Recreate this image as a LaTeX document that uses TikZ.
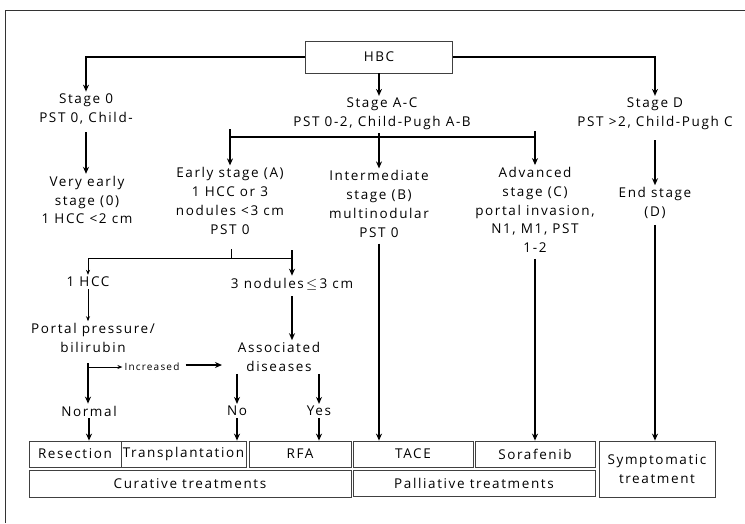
\documentclass[tikz,border=0pt]{standalone}
\usepackage{amsmath}
\usepackage{fontspec}
\setmainfont{Open Sans}[LetterSpace=12]
\usetikzlibrary{arrows.meta}

\tikzset{
  txt/.style={align=center, inner sep=2pt, font=\fontsize{13.5}{18.8}\selectfont},
  box/.style={draw=black!75, line width=0.8pt, inner sep=0pt, font=\fontsize{13.5}{18.8}\selectfont, align=center},
  arr/.style={-{Stealth[length=7pt,width=6pt]}, line width=1.2pt},
  tarr/.style={-{Stealth[length=5pt,width=4pt]}, line width=0.7pt}
}

\begin{document}
\begin{tikzpicture}[x=1pt,y=-1pt]
\useasboundingbox (0,0) rectangle (745,523);
\draw[line width=0.9pt, black!80] (5,523) -- (5,10) -- (745,10);

% top level
\node[box, minimum width=147pt, minimum height=32pt] (hbc) at (379,57) {HBC};
\node[txt] (s0) at (86,109) {Stage 0\\PST 0, Child-};
\node[txt] (sac) at (382,114) {Stage A-C\\PST 0-2, Child-Pugh A-B};
\node[txt] (sd) at (655,114) {Stage D\\PST >2, Child-Pugh C};

% stages
\node[txt] (ve) at (87,200) {Very early\\stage (0)\\1 HCC <2 cm};
\node[txt] (ea) at (230,201) {Early stage (A)\\1 HCC or 3\\nodules <3 cm\\PST 0};
\node[txt] (ib) at (379,204) {Intermediate\\stage (B)\\multinodular\\PST 0};
\node[txt] (ac) at (535,210) {Advanced\\stage (C)\\portal invasion,\\N1, M1, PST\\1-2};
\node[txt] (ed) at (655,203) {End stage\\(D)};

% early stage branch
\node[txt] (hcc1) at (88,282) {1 HCC};
\node[txt] (n3) at (292,284) {3 nodules\,$\leq$\,3 cm};
\node[txt] (pp) at (93,338) {Portal pressure/\\bilirubin};
\node[txt] (ad) at (279,357) {Associated\\diseases};
\node[txt, font=\fontsize{10}{11}\selectfont] (incr) at (152,367) {Increased};
\node[txt] (nrm) at (89,411) {Normal};
\node[txt] (no) at (237,411) {No};
\node[txt] (yes) at (319,411) {Yes};

% treatments
\node[box, minimum width=92pt, minimum height=26pt] (res) at (75,454) {Resection};
\node[box, minimum width=125pt, minimum height=26pt] (trans) at (183.5,454) {Transplantation};
\node[box, minimum width=102pt, minimum height=26pt] (rfa) at (300,454) {RFA};
\node[box, minimum width=120pt, minimum height=26pt] (tace) at (413,454) {TACE};
\node[box, minimum width=120pt, minimum height=26pt] (sora) at (535,454) {Sorafenib};
\node[box, minimum width=116pt, minimum height=56pt] (sym) at (657,469) {Symptomatic\\treatment};
\node[box, minimum width=322pt, minimum height=27pt] (cur) at (190,483.5) {Curative treatments};
\node[box, minimum width=242pt, minimum height=26pt] (pal) at (474,483) {Palliative treatments};

% connectors
\draw[arr] (hbc.west) -| (s0.north);
\draw[arr] (hbc.east) -| (sd.north);
\draw[arr] (hbc.south) -- (hbc.south |- sac.north);
\draw[arr] ([yshift=-6pt]s0.south) -- (s0.south |- ve.north);
\coordinate (br) at (379,137);
\draw[line width=1.2pt] (ea.north |- br) -- (ac.north |- br);
\draw[arr] ([yshift=8pt]ea.north |- br) -- (ea.north);
\draw[arr] ([yshift=6pt]ac.north |- br) -- (ac.north);
\draw[arr] ([yshift=4pt]br) -- (ib.north);
\draw[arr] ([yshift=-8pt]sd.south) -- (ed.north);
\draw[arr] ([yshift=-4pt]ed.south) -- (ed.south |- sym.north);
\draw[arr] ([yshift=-4pt]ib.south) -- (ib.south |- tace.north);
\draw[arr] ([yshift=-4pt]ac.south) -- (ac.south |- sora.north);

\coordinate (sp) at (231,258);
\draw[line width=1pt] ([yshift=9pt]sp) -- (sp);
\draw[line width=1pt] (hcc1.north |- sp) -- (n3.north |- sp);
\draw[tarr] (hcc1.north |- sp) -- (hcc1.north);
\draw[arr] ([yshift=8pt]n3.north |- sp) -- (n3.north);
\draw[tarr] (hcc1.south) -- (hcc1.south |- pp.north);
\draw[arr] ([yshift=-4pt]n3.south) -- (n3.south |- ad.north);
\coordinate (pb) at (88,363);
\draw[arr] (pb) -- (pb |- nrm.north);
\draw[tarr] (pb |- incr.west) -- (incr.west);
\coordinate (adin) at (222,365);
\draw[arr] ([xshift=4pt]incr.east |- adin) -- (adin);
\draw[arr] (no.north |- ad.south) -- (no.north);
\draw[arr] (yes.north |- ad.south) -- (yes.north);
\draw[arr] (nrm.south) -- (nrm.south |- res.north);
\draw[arr] (no.south) -- (no.south |- trans.north);
\draw[arr] (yes.south) -- (yes.south |- rfa.north);
\end{tikzpicture}
\end{document}
